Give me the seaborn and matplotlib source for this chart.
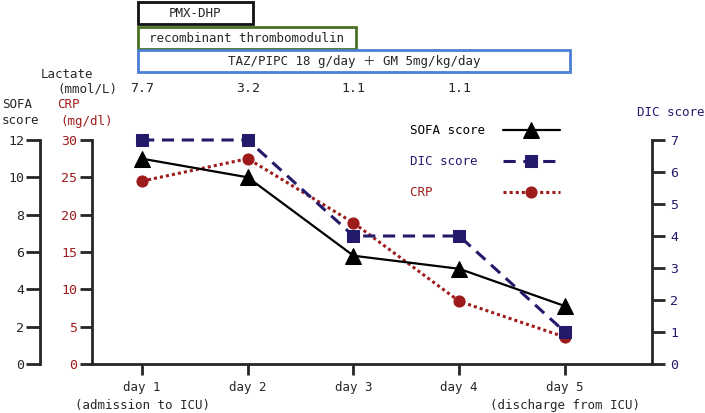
import numpy as np
import pandas as pd
import seaborn as sns
import matplotlib.pyplot as plt
from matplotlib import transforms
from matplotlib.patches import Rectangle

# data
days = ["day 1\n(admission to ICU)", "day 2", "day 3", "day 4",
        "day 5\n(discharge from ICU)"]
sofa = [11, 10, 5.8, 5.1, 3.1]
dic = [7, 7, 4, 4, 1]
crp = [24.5, 27.5, 18.9, 8.4, 3.6]
lactate = ["7.7", "3.2", "1.1", "1.1"]
treatments = ["PMX-DHP", "recombinant thrombomodulin",
              "TAZ/PIPC 18 g/day ＋ GM 5mg/kg/day"]
treat_end = [1.05, 2.02, 4.05]   # last day covered (0 = day 1)
treat_col = ["#111111", "#4a7023", "#4a7fd4"]

navy = "#231a6b"
red = "#9e1b1b"

sns.set_style("ticks")
plt.rcParams["font.family"] = ["DejaVu Sans Mono", "Noto Sans CJK JP"]
plt.rcParams["font.size"] = 9

W, H = 705, 413
fig = plt.figure(figsize=(W / 100, H / 100), dpi=100)


def px(x, y):
    return x / W, 1 - y / H


l, b = px(92, 364)
r, t = px(652, 140)
ax = fig.add_axes([l, b, r - l, t - b])
ax_sofa = ax.twinx()
ax_dic = ax.twinx()

df = pd.DataFrame({"x": np.arange(len(days)), "sofa": sofa, "dic": dic, "crp": crp})

sns.lineplot(data=df, x="x", y="crp", ax=ax, color=red, lw=2.2,
             linestyle=(0, (1, 1)), marker="o", markersize=8,
             markeredgecolor=red, clip_on=False)
sns.lineplot(data=df, x="x", y="dic", ax=ax_dic, color=navy, lw=2.2,
             linestyle=(0, (4, 2.5)), marker="s", markersize=8.5,
             markeredgecolor=navy, clip_on=False)
sns.lineplot(data=df, x="x", y="sofa", ax=ax_sofa, color="black", lw=1.6,
             marker="^", markersize=11, markeredgecolor="black", clip_on=False)

ax.set_xlim(-0.473, 4.823)
ax.set_ylim(0, 30)
ax_sofa.set_ylim(0, 12)
ax_dic.set_ylim(0, 7)
ax.set_xticks(np.arange(len(days)))
ax.set_xticklabels(days, linespacing=1.55)
ax.set_yticks(np.arange(0, 31, 5))
ax_sofa.set_yticks(np.arange(0, 13, 2))
ax_dic.set_yticks(np.arange(0, 8, 1))
for a in (ax, ax_sofa, ax_dic):
    a.set_xlabel("")
    a.set_ylabel("")
    for s in a.spines.values():
        s.set_visible(False)
        s.set_linewidth(2)

ax.spines["left"].set_visible(True)
ax.spines["bottom"].set_visible(True)
ax.tick_params(axis="x", length=8, width=2, pad=4, labelsize=9)
ax.tick_params(axis="y", length=9, width=2, pad=1.5, labelsize=9.5, labelcolor=red)

# SOFA axis sits 52 px to the left of the CRP axis
ax_sofa.yaxis.tick_left()
ax_sofa.spines["left"].set_visible(True)
ax_sofa.spines["left"].set_position(("outward", 52 * 0.72))
ax_sofa.tick_params(axis="y", length=10, width=2, pad=1.5, labelsize=9.5)

ax_dic.spines["right"].set_visible(True)
ax_dic.tick_params(axis="y", length=9, width=2, pad=4, labelsize=9.5, labelcolor=navy)

# axis titles
fig.text(*px(2, 105), "SOFA", va="center")
fig.text(*px(2, 121), "score", va="center")
fig.text(*px(57, 105), "CRP", va="center", color=red)
fig.text(*px(60, 121), "(mg/dl)", va="center", color=red)
fig.text(*px(637, 113), "DIC score", va="center", color=navy)
fig.text(*px(41, 74), "Lactate", va="center")
fig.text(*px(57, 89), "(mmol/L)", va="center")

# lactate values and treatment bars above the plot
tr = transforms.blended_transform_factory(ax.transData, fig.transFigure)
for i, v in enumerate(lactate):
    ax.text(i, px(0, 89)[1], v, transform=tr, ha="center", va="center", fontsize=9.5)

tops = [2, 27, 50]
hgt = 22
for name, end, col, top in zip(treatments, treat_end, treat_col, tops):
    y0 = px(0, top + hgt)[1]
    y1 = px(0, top)[1]
    rect = Rectangle((-0.04, y0), end + 0.04, y1 - y0, transform=tr,
                     fill=False, edgecolor=col, lw=2, clip_on=False)
    ax.add_patch(rect)
    ax.text((end - 0.04) / 2, (y0 + y1) / 2, name, transform=tr,
            ha="center", va="center", fontsize=9)

# legend: label first, marker after (labels padded so they line up left)
handles = [ax_sofa.lines[0], ax_dic.lines[0], ax.lines[0]]
labels = ["SOFA score", "DIC score ", "CRP       "]
leg = fig.legend(handles, labels, loc="upper right", bbox_to_anchor=px(560, 124),
                 frameon=False, markerfirst=False, handlelength=4.6,
                 handletextpad=1.4, labelspacing=1.45, borderpad=0,
                 borderaxespad=0, fontsize=9)
for txt, c in zip(leg.get_texts(), ["black", navy, red]):
    txt.set_color(c)

fig.savefig("out.png", dpi=100)
